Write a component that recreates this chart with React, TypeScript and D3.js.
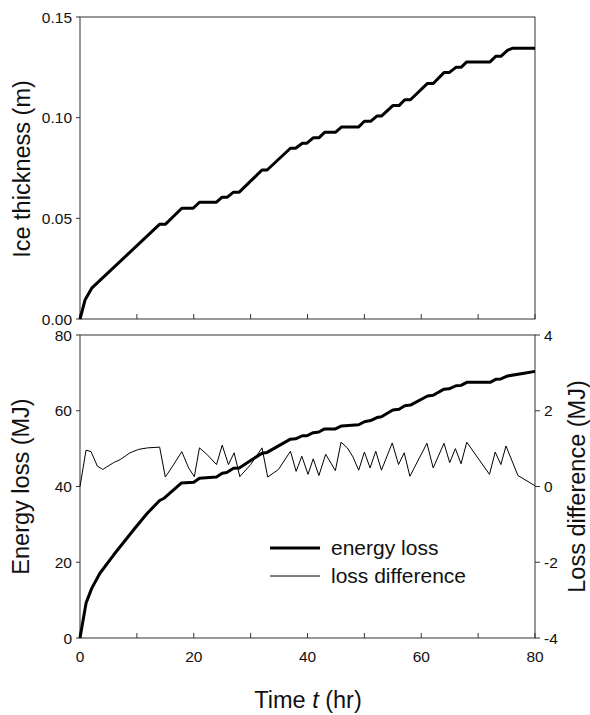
import React from "react";
import * as d3 from "d3";

// Ice thickness (top panel)
const iceT = [0, 0.88, 2.06, 13.98, 15, 17.9, 19.9, 21, 24, 25, 25.9, 27, 28, 32, 32.9, 37, 37.9, 39.1, 39.9, 41, 42, 43, 44.9, 46, 49, 50, 51.1, 52.2, 53, 55, 56.1, 57.1, 58.1, 61.1, 62.1, 64, 64.9, 66.1, 67, 68, 72.1, 73.1, 74, 75.2, 76.1, 80];
const iceV = [0, 0.0094, 0.0153, 0.047, 0.047, 0.055, 0.055, 0.058, 0.058, 0.0605, 0.0605, 0.063, 0.063, 0.074, 0.074, 0.0848, 0.0848, 0.0873, 0.0873, 0.09, 0.09, 0.0927, 0.0927, 0.0954, 0.0954, 0.0982, 0.0982, 0.1008, 0.1008, 0.106, 0.106, 0.1089, 0.1089, 0.117, 0.117, 0.1224, 0.1224, 0.125, 0.125, 0.1277, 0.1277, 0.1305, 0.1305, 0.1335, 0.1345, 0.1345];

// Energy loss (bottom panel, left axis)
const energyT = [0, 1.06, 2.06, 3.5, 5.9, 9.4, 11.75, 14, 14.8, 17.8, 20, 21, 24, 25, 25.8, 27, 28, 32, 32.9, 37, 37.9, 39.1, 39.9, 41, 42, 43, 44.9, 46, 49, 50, 51.1, 52.2, 53, 55, 56.1, 57.1, 58.1, 61.1, 62.1, 64, 64.9, 66.1, 67, 68, 72.1, 73.1, 74, 75.2, 78.1, 80];
const energyV = [0, 9.2, 13.1, 17.1, 21.9, 28.5, 32.8, 36.3, 36.9, 40.9, 41.1, 42.2, 42.5, 43.5, 43.7, 44.8, 44.9, 48.8, 49.0, 52.5, 52.6, 53.4, 53.4, 54.2, 54.4, 55.2, 55.2, 56.0, 56.3, 57.1, 57.4, 58.2, 58.4, 60.2, 60.4, 61.3, 61.5, 63.9, 64.1, 65.7, 65.8, 66.6, 66.7, 67.5, 67.5, 68.3, 68.4, 69.2, 69.9, 70.4];

// Loss difference (bottom panel, right axis)
const diffT = [0, 1.06, 1.94, 3.05, 4, 5.9, 7.05, 8.8, 10.3, 11.9, 14, 15, 16.3, 17.9, 19.1, 20.1, 21, 22.3, 24, 25, 26.1, 27.1, 28.1, 30, 32, 33, 34.9, 37, 38, 39, 40.1, 41, 42, 43.2, 44.9, 45.9, 47, 48, 49, 50, 51, 52, 53, 54.9, 56, 57, 58, 61, 62.1, 64, 65, 66, 67, 68, 72, 73, 74, 74.9, 77, 80];
const diffV = [0, 0.96, 0.92, 0.54, 0.45, 0.63, 0.71, 0.89, 0.98, 1.02, 1.04, 0.25, 0.54, 0.92, 0.49, 0.26, 1.02, 0.85, 0.58, 1.09, 0.58, 0.89, 0.26, 0.58, 1.02, 0.25, 0.45, 0.93, 0.40, 0.80, 0.32, 0.73, 0.29, 0.85, 0.42, 1.17, 1.02, 0.78, 0.43, 0.91, 0.49, 0.93, 0.43, 1.15, 0.58, 0.89, 0.27, 1.14, 0.49, 1.14, 0.63, 1.0, 0.6, 1.17, 0.32, 0.91, 0.58, 1.07, 0.29, 0.02];

const xTicks = [0, 10, 20, 30, 40, 50, 60, 70, 80];
const xLabels = [0, 20, 40, 60, 80];
const iceTicks = [0, 0.05, 0.1, 0.15];
const energyTicks = [0, 20, 40, 60, 80];
const diffTicks = [-4, -2, 0, 2, 4];

const FONT = "'Liberation Sans', Arial, sans-serif";
const AX = "#333";
const TICK_FS = 15.5;
const TITLE_FS = 23.5;

export default function App() {
  const L = 80, R = 535;
  const topT = 17, topB = 319;
  const botT = 335, botB = 638;

  const x = d3.scaleLinear().domain([0, 80]).range([L, R]);
  const yIce = d3.scaleLinear().domain([0, 0.15]).range([topB, topT]);
  const yE = d3.scaleLinear().domain([0, 80]).range([botB, botT]);
  const yD = d3.scaleLinear().domain([-4, 4]).range([botB, botT]);

  const lineOf = (ts: number[], vs: number[], ys: d3.ScaleLinear<number, number>) =>
    d3.line<number>().x((_, i) => x(ts[i])).y((v) => ys(v))(vs) || "";

  return (
    <svg width={590} height={715} style={{ position: "absolute", left: 0, top: 0 }} fontFamily={FONT}>
      <rect width={590} height={715} fill="#fff" />
      {/* Top panel frame */}
      <rect x={L} y={topT} width={R - L} height={topB - topT} fill="none" stroke={AX} strokeWidth={1} />
      {xTicks.map((t) => (
        <line key={"tt" + t} x1={x(t)} x2={x(t)} y1={topB} y2={topB - 5} stroke={AX} />
      ))}
      {iceTicks.map((v) => (
        <g key={"it" + v}>
          <line x1={L - 4} x2={L} y1={yIce(v)} y2={yIce(v)} stroke={AX} />
          <text x={L - 8} y={yIce(v) + 5.5} textAnchor="end" fontSize={TICK_FS} fill="#111">
            {v.toFixed(2)}
          </text>
        </g>
      ))}
      <path d={lineOf(iceT, iceV, yIce)} fill="none" stroke="#000" strokeWidth={3} strokeLinejoin="round" />
      <text transform={`translate(30,169) rotate(-90)`} textAnchor="middle" fontSize={TITLE_FS} fill="#111">
        Ice thickness (m)
      </text>

      {/* Bottom panel frame */}
      <rect x={L} y={botT} width={R - L} height={botB - botT} fill="none" stroke={AX} strokeWidth={1} />
      {xTicks.map((t) => (
        <line key={"bt" + t} x1={x(t)} x2={x(t)} y1={botB} y2={botB - 5} stroke={AX} />
      ))}
      {xLabels.map((t) => (
        <text key={"bl" + t} x={x(t)} y={botB + 24} textAnchor="middle" fontSize={TICK_FS} fill="#111">
          {t}
        </text>
      ))}
      {energyTicks.map((v) => (
        <g key={"et" + v}>
          <line x1={L - 4} x2={L} y1={yE(v)} y2={yE(v)} stroke={AX} />
          <text x={L - 8} y={yE(v) + 5.5} textAnchor="end" fontSize={TICK_FS} fill="#111">
            {v}
          </text>
        </g>
      ))}
      {diffTicks.map((v) => (
        <g key={"dt" + v}>
          <line x1={R} x2={R + 5} y1={yD(v)} y2={yD(v)} stroke={AX} />
          <text x={R + 9} y={yD(v) + 5.5} textAnchor="start" fontSize={TICK_FS} fill="#111">
            {v}
          </text>
        </g>
      ))}
      <path d={lineOf(diffT, diffV, yD)} fill="none" stroke="#000" strokeWidth={1} />
      <path d={lineOf(energyT, energyV, yE)} fill="none" stroke="#000" strokeWidth={3} strokeLinejoin="round" />
      <text transform={`translate(29,486.5) rotate(-90)`} textAnchor="middle" fontSize={TITLE_FS} fill="#111">
        Energy loss (MJ)
      </text>
      <text transform={`translate(585,486.5) rotate(-90)`} textAnchor="middle" fontSize={TITLE_FS} fill="#111">
        Loss difference (MJ)
      </text>

      {/* Legend */}
      <line x1={270} x2={320} y1={548} y2={548} stroke="#000" strokeWidth={3} />
      <text x={331} y={555} fontSize={21} fill="#111">energy loss</text>
      <line x1={270} x2={320} y1={576} y2={576} stroke="#000" strokeWidth={1} />
      <text x={331} y={583} fontSize={21} fill="#111">loss difference</text>

      <text x={308} y={708} textAnchor="middle" fontSize={TITLE_FS} fill="#111">
        Time <tspan fontStyle="italic">t</tspan> (hr)
      </text>
    </svg>
  );
}
